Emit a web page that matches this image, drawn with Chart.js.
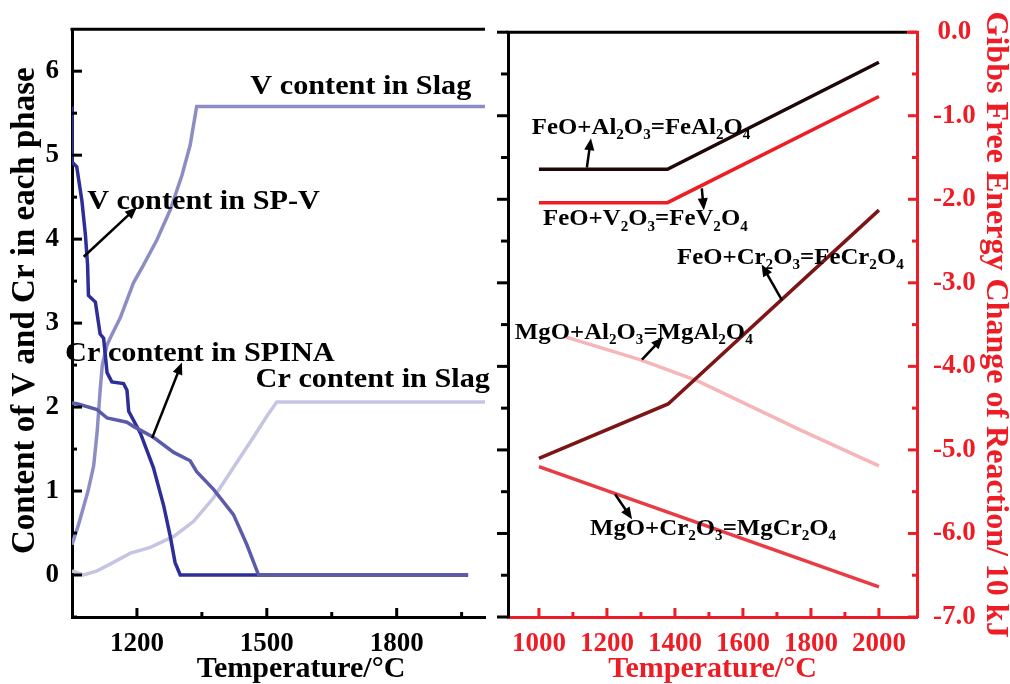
<!DOCTYPE html>
<html>
<head>
<meta charset="utf-8">
<script src="https://cdn.jsdelivr.net/npm/chart.js@4.4.1/dist/chart.umd.min.js"></script>
<style>
  html, body { margin: 0; padding: 0; background: #fff; }
  #wrap { position: relative; width: 1010px; height: 684px; }
  #wrap canvas { position: absolute; left: 0; top: 0; }
</style>
</head>
<body>
<div id="wrap">
  <canvas id="leftCanvas" width="1010" height="684"></canvas>
  <canvas id="rightCanvas" width="1010" height="684"></canvas>
</div>
<script>
// ---- left panel: V / Cr content in each phase ----
const tempSPV = [1050, 1050, 1061, 1073, 1081, 1086, 1088, 1104, 1115, 1123, 1131, 1142, 1169, 1177, 1181, 1208, 1238, 1262, 1277, 1288, 1300, 1965];
const vSPV    = [5.58, 4.92, 4.86, 4.45, 4.05, 3.69, 3.33, 3.25, 2.87, 2.82, 2.41, 2.30, 2.28, 2.20, 1.95, 1.69, 1.28, 0.82, 0.46, 0.15, 0, 0];

const tempVSlag = [1050, 1065, 1087, 1100, 1108, 1115, 1120, 1131, 1140, 1162, 1181, 1192, 1215, 1246, 1277, 1304, 1323, 1338, 2004];
const vSlag     = [0.36, 0.60, 1.00, 1.30, 1.70, 2.20, 2.50, 2.74, 2.84, 3.07, 3.33, 3.48, 3.69, 3.99, 4.35, 4.76, 5.12, 5.58, 5.58];

const tempSpina = [1050, 1062, 1108, 1131, 1177, 1192, 1238, 1285, 1323, 1338, 1377, 1423, 1454, 1481, 1965];
const crSpina   = [2.05, 2.04, 1.97, 1.87, 1.82, 1.77, 1.64, 1.46, 1.36, 1.23, 1.02, 0.72, 0.36, 0, 0];

const tempCrSlag = [1050, 1077, 1108, 1138, 1185, 1231, 1285, 1331, 1377, 1423, 1469, 1500, 1523, 2004];
const crSlag     = [0.05, 0.00, 0.05, 0.13, 0.26, 0.33, 0.46, 0.64, 0.92, 1.28, 1.64, 1.89, 2.06, 2.06];

const leftXTicks = [1200, 1500, 1800];
const leftXMinor = [1350, 1650, 1950];
const leftYTicks = [0, 1, 2, 3, 4, 5, 6];
const leftYMinor = [-0.5, 0.5, 1.5, 2.5, 3.5, 4.5, 5.5];

// ---- right panel: Gibbs free energy of the spinel reactions ----
const tempFeAl = [1000, 1378, 2000];
const gFeAl    = [-1.64, -1.64, -0.36];
const tempFeV  = [1000, 1378, 2000];
const gFeV     = [-2.04, -2.04, -0.77];
const tempFeCr = [1000, 1380, 2000];
const gFeCr    = [-5.10, -4.45, -2.13];
const tempMgAl = [1080, 1297, 1465, 1768, 2000];
const gMgAl    = [-3.65, -3.92, -4.17, -4.76, -5.19];
const tempMgCr = [1000, 2000];
const gMgCr    = [-5.20, -6.64];

const rightXTicks = [1000, 1200, 1400, 1600, 1800, 2000];
const rightXMinor = [1100, 1300, 1500, 1700, 1900];
const rightYTicks = [0, -1, -2, -3, -4, -5, -6, -7];
const rightYMinor = [-0.5, -1.5, -2.5, -3.5, -4.5, -5.5, -6.5];

const leftNotes = [
  { text: 'V content in Slag', x: 1462, y: 5.82 },
  { text: 'V content in SP-V', x: 1085, y: 4.45 },
  { text: 'Cr content in SPINA', x: 1034, y: 2.63 },
  { text: 'Cr content in Slag', x: 1474, y: 2.32 }
];
const leftArrows = [
  { from: [1077, 3.79], to: [1200, 4.38] },
  { from: [1235, 1.63], to: [1304, 2.53] }
];
const rightNotes = [
  { text: 'FeO+Al_2O_3=FeAl_2O_4', x: 979, y: -1.15 },
  { text: 'FeO+V_2O_3=FeV_2O_4', x: 1012, y: -2.24 },
  { text: 'FeO+Cr_2O_3=FeCr_2O_4', x: 1406, y: -2.70 },
  { text: 'MgO+Al_2O_3=MgAl_2O_4', x: 929, y: -3.60 },
  { text: 'MgO+Cr_2O_3=MgCr_2O_4', x: 1150, y: -5.95 }
];
const rightArrows = [
  { from: [1141, -1.62], to: [1153, -1.27] },
  { from: [1479, -1.87], to: [1485, -2.13] },
  { from: [1715, -3.21], to: [1655, -2.78] },
  { from: [1303, -3.92], to: [1365, -3.65] },
  { from: [1224, -5.53], to: [1274, -5.83] }
];

const serif = '"Liberation Serif", "Times New Roman", serif';
const red = '#ee1c25';

function pts(xs, ys) {
  return xs.map((x, i) => ({ x: x, y: ys[i] }));
}

// text with "_" marking a subscript character, slightly stretched like the original
function drawRich(ctx, str, x, y, size, color, stretch) {
  ctx.save();
  ctx.translate(x, y);
  ctx.scale(stretch || 1, 1);
  ctx.fillStyle = color;
  ctx.textBaseline = 'middle';
  ctx.textAlign = 'left';
  const parts = str.split(/_(.)/);
  let cx = 0;
  parts.forEach((p, i) => {
    if (!p) return;
    const sub = i % 2 === 1;
    const fs = sub ? Math.round(size * 0.62) : size;
    ctx.font = 'bold ' + fs + 'px ' + serif;
    ctx.fillText(p, cx, sub ? size * 0.33 : 0);
    cx += ctx.measureText(p).width;
  });
  ctx.restore();
}

function drawArrow(ctx, x1, y1, x2, y2) {
  const a = Math.atan2(y2 - y1, x2 - x1), h = 13;
  ctx.save();
  ctx.strokeStyle = '#000';
  ctx.fillStyle = '#000';
  ctx.lineWidth = 2.5;
  ctx.beginPath();
  ctx.moveTo(x1, y1);
  ctx.lineTo(x2 - h * 0.7 * Math.cos(a), y2 - h * 0.7 * Math.sin(a));
  ctx.stroke();
  ctx.beginPath();
  ctx.moveTo(x2, y2);
  ctx.lineTo(x2 - h * Math.cos(a - 0.4), y2 - h * Math.sin(a - 0.4));
  ctx.lineTo(x2 - h * Math.cos(a + 0.4), y2 - h * Math.sin(a + 0.4));
  ctx.closePath();
  ctx.fill();
  ctx.restore();
}

// tick marks + top border, drawn by hand (inward / outward ticks)
const framePlugin = {
  id: 'frame',
  afterDraw(chart, args, opts) {
    const ctx = chart.ctx, area = chart.chartArea;
    (opts.ticks || []).forEach(t => {
      const s = chart.scales[t.axis];
      ctx.save();
      ctx.strokeStyle = t.color;
      ctx.lineWidth = 3;
      t.values.forEach(v => {
        const p = s.getPixelForValue(v);
        ctx.beginPath();
        if (s.isHorizontal()) {
          ctx.moveTo(p, area.bottom);
          ctx.lineTo(p, area.bottom - t.len);
        } else {
          const x0 = t.side === 'left' ? area.left : area.right;
          ctx.moveTo(x0, p);
          ctx.lineTo(x0 + t.dir * t.len, p);
        }
        ctx.stroke();
      });
      ctx.restore();
    });
    ctx.save();
    ctx.lineWidth = 3;
    ctx.strokeStyle = '#000';
    ctx.beginPath();
    ctx.moveTo(area.left - 1.5, area.top);
    ctx.lineTo(area.right - (opts.redTail || 0), area.top);
    ctx.stroke();
    if (opts.redTail) {
      ctx.strokeStyle = red;
      ctx.beginPath();
      ctx.moveTo(area.right - opts.redTail, area.top);
      ctx.lineTo(area.right + 1.5, area.top);
      ctx.stroke();
    }
    ctx.restore();
  }
};

const notesPlugin = {
  id: 'notes',
  afterDraw(chart, args, opts) {
    const ctx = chart.ctx, sx = chart.scales.x, sy = chart.scales.y;
    (opts.arrows || []).forEach(a => {
      drawArrow(ctx, sx.getPixelForValue(a.from[0]), sy.getPixelForValue(a.from[1]),
                sx.getPixelForValue(a.to[0]), sy.getPixelForValue(a.to[1]));
    });
    (opts.texts || []).forEach(n => {
      drawRich(ctx, n.text, sx.getPixelForValue(n.x), sy.getPixelForValue(n.y), opts.size, '#000', 1.08);
    });
  }
};

const tickFont = { family: serif, size: 27, weight: 'bold' };
const titleFont = { family: serif, size: 30, weight: 'bold', lineHeight: 1 };

function lineSet(xs, ys, color, width) {
  return { data: pts(xs, ys), borderColor: color, borderWidth: width || 3.5, pointRadius: 0, tension: 0, fill: false };
}

const leftChart = new Chart(document.getElementById('leftCanvas'), {
  type: 'line',
  data: {
    datasets: [
      lineSet(tempSpina, crSpina, '#5b5ba9'),
      lineSet(tempSPV, vSPV, '#2e2e99'),
      lineSet(tempVSlag, vSlag, '#8d8dc6'),
      lineSet(tempCrSlag, crSlag, '#c5c5e3')
    ]
  },
  options: {
    responsive: false,
    animation: false,
    layout: { padding: { left: 0, top: 22, right: 525, bottom: 0 } },
    plugins: {
      legend: { display: false },
      tooltip: { enabled: false },
      frame: {
        ticks: [
          { axis: 'x', values: leftXTicks, len: 9, color: '#000' },
          { axis: 'x', values: leftXMinor, len: 5, color: '#000' },
          { axis: 'y', values: leftYTicks, len: 10, side: 'left', dir: 1, color: '#000' },
          { axis: 'y', values: leftYMinor, len: 5, side: 'left', dir: 1, color: '#000' }
        ]
      },
      notes: { texts: leftNotes, arrows: leftArrows, size: 28 }
    },
    scales: {
      x: {
        type: 'linear', min: 1050, max: 2004,
        afterFit: s => { s.height = 67; },
        afterBuildTicks: s => { s.ticks = leftXTicks.map(v => ({ value: v })); },
        grid: { display: false, drawTicks: false },
        border: { color: '#000', width: 3 },
        ticks: { font: tickFont, color: '#000', padding: 11, maxRotation: 0, autoSkip: false, callback: v => String(v) },
        title: { display: true, text: '      Temperature/°C', font: titleFont, color: '#000', padding: { top: 0, bottom: 0 } }
      },
      y: {
        min: -0.5, max: 6.5,
        afterFit: s => { s.width = 72; },
        afterBuildTicks: s => { s.ticks = leftYTicks.map(v => ({ value: v })); },
        grid: { display: false, drawTicks: false },
        border: { color: '#000', width: 3 },
        ticks: { font: tickFont, color: '#000', padding: 13, callback: v => String(v) },
        title: { display: true, text: '   Content of V and Cr in each phase', font: { family: serif, size: 33, weight: 'bold', lineHeight: 1 }, color: '#000', padding: { top: 9, bottom: 0 } }
      }
    }
  },
  plugins: [framePlugin, notesPlugin]
});

const rightChart = new Chart(document.getElementById('rightCanvas'), {
  type: 'line',
  data: {
    datasets: [
      lineSet(tempFeAl, gFeAl, '#1f0707'),
      lineSet(tempFeV, gFeV, '#ee1d23'),
      lineSet(tempFeCr, gFeCr, '#7d1416'),
      lineSet(tempMgAl, gMgAl, '#f5b5b9'),
      lineSet(tempMgCr, gMgCr, '#ea3b43')
    ]
  },
  options: {
    responsive: false,
    animation: false,
    layout: { padding: { left: 488, top: 22, right: 0, bottom: 0 } },
    plugins: {
      legend: { display: false },
      tooltip: { enabled: false },
      frame: {
        redTail: 10,
        ticks: [
          { axis: 'x', values: rightXTicks, len: 9, color: red },
          { axis: 'x', values: rightXMinor, len: 5, color: red },
          { axis: 'yL', values: rightYTicks, len: 11, side: 'left', dir: -1, color: '#000' },
          { axis: 'yL', values: rightYMinor, len: 7, side: 'left', dir: -1, color: '#000' },
          { axis: 'y', values: rightYTicks, len: 9, side: 'right', dir: -1, color: red },
          { axis: 'y', values: rightYMinor, len: 5, side: 'right', dir: -1, color: red }
        ]
      },
      notes: { texts: rightNotes, arrows: rightArrows, size: 23 }
    },
    scales: {
      x: {
        type: 'linear', min: 909, max: 2112,
        afterFit: s => { s.height = 67; },
        afterBuildTicks: s => { s.ticks = rightXTicks.map(v => ({ value: v })); },
        grid: { display: false, drawTicks: false },
        border: { color: red, width: 3 },
        ticks: { font: tickFont, color: red, padding: 11, maxRotation: 0, autoSkip: false, callback: v => String(v) },
        title: { display: true, text: 'Temperature/°C', font: titleFont, color: red, padding: { top: 0, bottom: 0 } }
      },
      yL: {
        position: 'left', min: -7, max: 0,
        afterFit: s => { s.width = 20; },
        grid: { display: false, drawTicks: false },
        border: { color: '#000', width: 3 },
        ticks: { display: false }
      },
      y: {
        position: 'right', min: -7, max: 0,
        afterFit: s => { s.width = 93; },
        afterBuildTicks: s => { s.ticks = rightYTicks.map(v => ({ value: v })); },
        grid: { display: false, drawTicks: false },
        border: { color: red, width: 3 },
        ticks: { font: tickFont, color: red, padding: 16, crossAlign: 'center', callback: v => v.toFixed(1) },
        title: { display: true, text: 'Gibbs Free Energy Change of Reaction/ 10 kJ', font: { family: serif, size: 32, weight: 'bold', lineHeight: 1 }, color: red, padding: { top: -1, bottom: 0 } }
      }
    }
  },
  plugins: [framePlugin, notesPlugin]
});
</script>
</body>
</html>
